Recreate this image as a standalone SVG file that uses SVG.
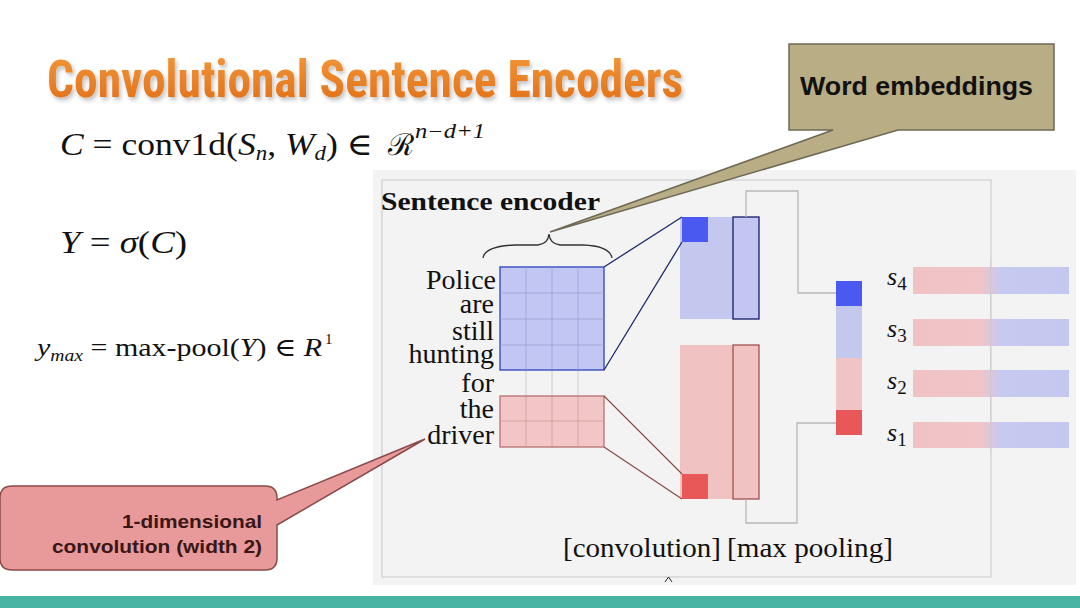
<svg xmlns="http://www.w3.org/2000/svg" width="1080" height="608" viewBox="0 0 1080 608">
<defs>
<linearGradient id="titleGrad" x1="0" y1="0" x2="0" y2="1">
<stop offset="0" stop-color="#f39a3c"/>
<stop offset="1" stop-color="#e06c14"/>
</linearGradient>
<linearGradient id="barGrad" x1="0" y1="0" x2="1" y2="0">
<stop offset="0" stop-color="#f0c2c6"/>
<stop offset="0.44" stop-color="#f0c4c8"/>
<stop offset="0.56" stop-color="#c6caf0"/>
<stop offset="1" stop-color="#c4c8f0"/>
</linearGradient>
<filter id="shadow" x="-5%" y="-20%" width="110%" height="150%">
<feGaussianBlur in="SourceAlpha" stdDeviation="2"/>
<feOffset dx="2" dy="3" result="b"/>
<feComponentTransfer><feFuncA type="linear" slope="0.25"/></feComponentTransfer>
<feMerge><feMergeNode/><feMergeNode in="SourceGraphic"/></feMerge>
</filter>
</defs>
<style>
.serif{font-family:"Liberation Serif","DejaVu Serif",serif;fill:#111}
.it{font-style:italic}
.word{font-family:"Liberation Serif",serif;font-size:28px;fill:#111;text-anchor:end}
.sans{font-family:"Liberation Sans",Arial,sans-serif;font-weight:bold}
.gridline{stroke:#9a9ad0;stroke-width:1;opacity:0.7}
.gridlineR{stroke:#c89898;stroke-width:1;opacity:0.7}
.conn{fill:none;stroke:#b8b8b8;stroke-width:1.3}
.blueline{stroke:#1e2a70;stroke-width:1.3;fill:none}
.redline{stroke:#8a4a4a;stroke-width:1.2;fill:none}
</style>
<rect x="0" y="0" width="1080" height="608" fill="#ffffff"/>

<g id="title">
<text x="47" y="97" font-family="'Liberation Sans Narrow','Roboto Condensed','Liberation Sans',sans-serif" font-weight="bold" font-size="52" fill="url(#titleGrad)" textLength="636" lengthAdjust="spacingAndGlyphs" filter="url(#shadow)">Convolutional Sentence Encoders</text>
</g>

<g id="formula-conv">
<text class="serif" x="60" y="155" font-size="31" textLength="313" lengthAdjust="spacingAndGlyphs"><tspan class="it">C</tspan> = conv1d(<tspan class="it">S</tspan><tspan class="it" font-size="20" dy="5">n</tspan><tspan dy="-5">, </tspan><tspan class="it">W</tspan><tspan class="it" font-size="20" dy="5">d</tspan><tspan dy="-5">) ∈</tspan></text>
<text class="serif" x="388" y="155" font-size="30" font-family="'DejaVu Serif',serif" textLength="26" lengthAdjust="spacingAndGlyphs">ℛ</text>
<text class="serif it" x="415" y="138" font-size="20" textLength="70" lengthAdjust="spacingAndGlyphs">n−d+1</text>
</g>

<g id="formula-sigma">
<text class="serif" x="60" y="253" font-size="32" textLength="127" lengthAdjust="spacingAndGlyphs"><tspan class="it">Y</tspan> = <tspan class="it">σ</tspan>(<tspan class="it">C</tspan>)</text>
</g>

<g id="formula-pool">
<text class="serif" x="37" y="356" font-size="26" textLength="285" lengthAdjust="spacingAndGlyphs"><tspan class="it">y</tspan><tspan class="it" font-size="17" dy="5">max</tspan><tspan dy="-5"> = max-pool(</tspan><tspan class="it">Y</tspan>) ∈ <tspan class="it">R</tspan></text>
<text class="serif" font-size="15" x="325" y="344">1</text>
</g>

<g id="panel">
<rect x="373" y="170" width="703" height="415" fill="#f3f3f3"/>
<rect x="382" y="180" width="609" height="397" fill="#f3f3f3" stroke="#cfcfcf" stroke-width="1.2"/>
<text class="serif" x="381" y="210" font-size="26" font-weight="bold" textLength="219" lengthAdjust="spacingAndGlyphs">Sentence encoder</text>
<path d="M483,258 Q485,246 515,245 L538,245 Q548,244 549,234 Q550,244 560,245 L583,245 Q610,246 612,258" fill="none" stroke="#333" stroke-width="1.3"/>
</g>

<g id="words">
<text class="word" x="496" y="289">Police</text>
<text class="word" x="494" y="313">are</text>
<text class="word" x="494" y="340">still</text>
<text class="word" x="494" y="363">hunting</text>
<text class="word" x="494" y="392">for</text>
<text class="word" x="494" y="418">the</text>
<text class="word" x="494" y="444">driver</text>
</g>

<g id="embedding-grid">
<line x1="526" y1="370" x2="526" y2="396" stroke="#ccc"/>
<line x1="552" y1="370" x2="552" y2="396" stroke="#ccc"/>
<line x1="578" y1="370" x2="578" y2="396" stroke="#ccc"/>
<rect x="500" y="267" width="104" height="103" fill="#c2c6f2" stroke="#3a4cc0" stroke-width="1.4"/>
<line class="gridline" x1="526" y1="267" x2="526" y2="370"/>
<line class="gridline" x1="552" y1="267" x2="552" y2="370"/>
<line class="gridline" x1="578" y1="267" x2="578" y2="370"/>
<line class="gridline" x1="500" y1="293" x2="604" y2="293"/>
<line class="gridline" x1="500" y1="319" x2="604" y2="319"/>
<line class="gridline" x1="500" y1="345" x2="604" y2="345"/>
<rect x="500" y="396" width="104" height="51" fill="#f2c6c6" stroke="#b87070" stroke-width="1.3"/>
<line class="gridlineR" x1="526" y1="396" x2="526" y2="447"/>
<line class="gridlineR" x1="552" y1="396" x2="552" y2="447"/>
<line class="gridlineR" x1="578" y1="396" x2="578" y2="447"/>
<line class="gridlineR" x1="500" y1="421" x2="604" y2="421"/>
</g>

<g id="conv-blue">
<rect x="680" y="217" width="53" height="102" fill="#c4c8ee"/>
<rect x="682" y="217" width="26" height="25" fill="#4a5af0"/>
<rect x="733" y="217" width="26" height="102" fill="#c2c6f0" stroke="#1e2a70" stroke-width="1.4"/>
</g>
<g id="conv-red">
<rect x="680" y="345" width="53" height="154" fill="#f0c2c2"/>
<rect x="682" y="474" width="26" height="25" fill="#e85858"/>
<rect x="733" y="345" width="26" height="154" fill="#f0c2c2" stroke="#a05050" stroke-width="1.3"/>
</g>

<g id="pooling">
<rect x="836" y="306" width="26" height="53" fill="#c4c8ec"/>
<rect x="836" y="358" width="26" height="52" fill="#f0c4c4"/>
<rect x="836" y="281" width="26" height="25" fill="#4a5af0"/>
<rect x="836" y="410" width="26" height="25" fill="#e85858"/>
</g>

<g id="sentence-vectors">
<rect x="913" y="267" width="156" height="27" fill="url(#barGrad)"/>
<rect x="913" y="319" width="156" height="27" fill="url(#barGrad)"/>
<rect x="913" y="370" width="156" height="27" fill="url(#barGrad)"/>
<rect x="913" y="422" width="156" height="26" fill="url(#barGrad)"/>
<line x1="990.5" y1="260" x2="990.5" y2="452" stroke="#c8c8c8" stroke-width="1" opacity="0.6"/>
<text class="serif" x="887" y="285" font-size="26"><tspan class="it">s</tspan><tspan font-size="19" dy="5">4</tspan></text>
<text class="serif" x="887" y="337" font-size="26"><tspan class="it">s</tspan><tspan font-size="19" dy="5">3</tspan></text>
<text class="serif" x="887" y="389" font-size="26"><tspan class="it">s</tspan><tspan font-size="19" dy="5">2</tspan></text>
<text class="serif" x="887" y="441" font-size="26"><tspan class="it">s</tspan><tspan font-size="19" dy="5">1</tspan></text>
</g>

<g id="connectors">
<path class="blueline" d="M604,267 L682,217 M604,370 L682,242"/>
<path class="redline" d="M604,396 L682,474 M604,447 L682,499"/>
<path class="conn" d="M746,217 V191 H798 V293 H836"/>
<path class="conn" d="M746,499 V523 H797 V423 H836"/>
</g>

<g id="captions">
<text class="serif" x="563" y="557" font-size="27" textLength="158" lengthAdjust="spacingAndGlyphs">[convolution]</text>
<text class="serif" x="727" y="557" font-size="27" textLength="166" lengthAdjust="spacingAndGlyphs">[max pooling]</text>
<path d="M665,582 L668.5,577 L672,582" fill="none" stroke="#222" stroke-width="1"/>
</g>

<g id="callout-word-embeddings">
<path d="M789,44 H1054 V130 H898 L550,232 L833,130 H789 Z" fill="#b8ad85" stroke="#6f6a55" stroke-width="1.5" stroke-linejoin="miter"/>
<text class="sans" x="800" y="95" font-size="25" fill="#111" textLength="233" lengthAdjust="spacingAndGlyphs">Word embeddings</text>
</g>

<g id="callout-convolution">
<path d="M12,486 H265 Q277,486 277,498 V500 L425,439 L277,525 V558 Q277,570 265,570 H12 Q0,570 0,558 V498 Q0,486 12,486 Z" fill="#e89999" stroke="#8a4a4a" stroke-width="1.5"/>
<text class="sans" x="262" y="528" font-size="19" fill="#3a1616" text-anchor="end" textLength="140" lengthAdjust="spacingAndGlyphs">1-dimensional</text>
<text class="sans" x="262" y="553" font-size="19" fill="#3a1616" text-anchor="end" textLength="210" lengthAdjust="spacingAndGlyphs">convolution (width 2)</text>
</g>

<rect id="footer-bar" x="0" y="596" width="1080" height="12" fill="#47b4a4"/>
</svg>
